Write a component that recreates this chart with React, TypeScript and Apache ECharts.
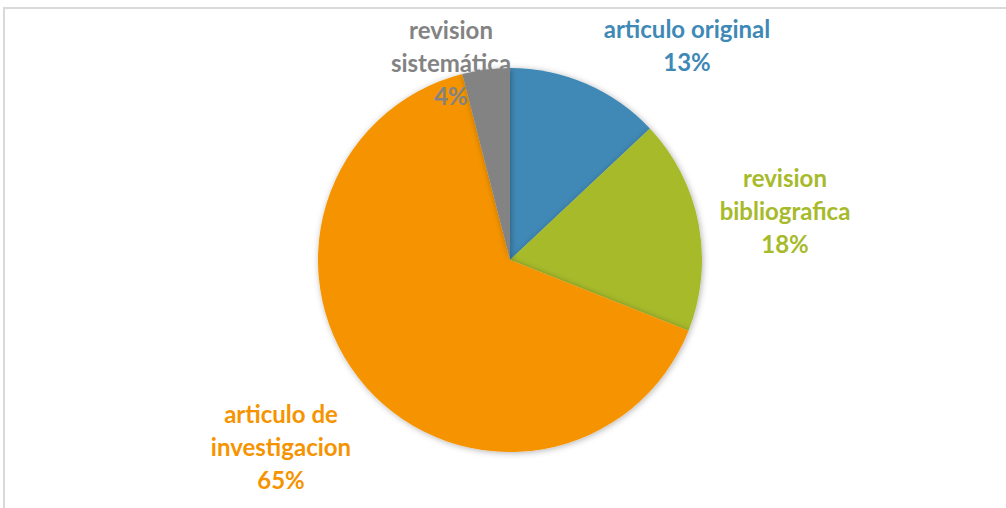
import React, { useEffect, useRef } from "react";
import * as echarts from "echarts";

const categories = ["articulo original", "revision bibliografica", "articulo de investigacion", "revision sistemática"];
const values = [13, 18, 65, 4];
const labelTexts = ["articulo original\n13%", "revision\nbibliografica\n18%", "articulo de\ninvestigacion\n65%", "revision\nsistemática\n4%"];
const colors = ["#3F89B6", "#A6BA2A", "#F59400", "#838383"];
const labelPos = [[687, 45], [785, 210], [281, 446], [451, 62]];

export default function App() {
  const ref = useRef<HTMLDivElement>(null);
  useEffect(() => {
    const chart = echarts.init(ref.current!, null, { renderer: "svg" });
    chart.setOption({
      animation: false,
      backgroundColor: "#ffffff",
      graphic: [
        {
          type: "rect",
          shape: { x: 4, y: 8, width: 1010, height: 510 },
          style: { fill: "none", stroke: "#d9d9d9", lineWidth: 2 },
          silent: true,
          z: -1,
        },
      ],
      series: [
        {
          type: "pie",
          center: [510, 260],
          radius: [0, 192],
          startAngle: 90,
          clockwise: true,
          itemStyle: { shadowBlur: 6, shadowColor: "rgba(0,0,0,0.3)", shadowOffsetX: 1, shadowOffsetY: 1 },
          data: categories.map((c, i) => ({
            name: c,
            value: values[i],
            itemStyle: { color: colors[i] },
            label: { color: colors[i] },
          })),
          label: {
            show: true,
            position: "outside",
            formatter: (p: any) => labelTexts[p.dataIndex],
            fontFamily: "Lato",
            fontWeight: "bold",
            fontSize: 24,
            lineHeight: 33,
            align: "center",
          },
          labelLine: { show: false },
          labelLayout: (p: any) => ({
            x: labelPos[p.dataIndex][0],
            y: labelPos[p.dataIndex][1],
            align: "center",
            verticalAlign: "middle",
          }),
        },
      ],
    });
    return () => chart.dispose();
  }, []);
  return <div ref={ref} style={{ position: "fixed", left: 0, top: 0, width: 1006, height: 508 }} />;
}
